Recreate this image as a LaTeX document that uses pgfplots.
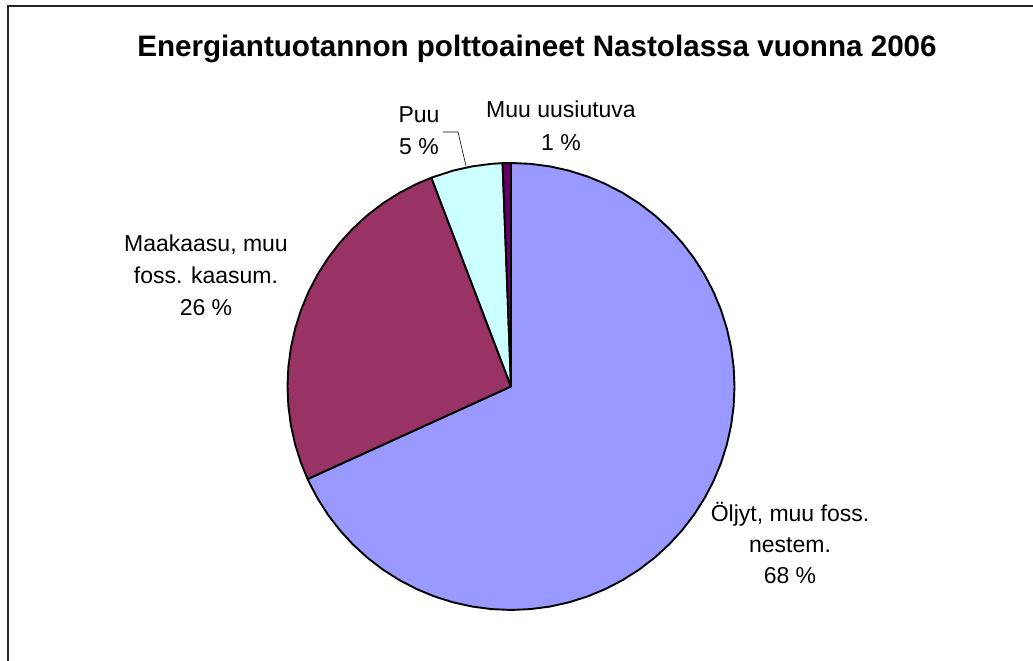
\documentclass[border=0pt]{standalone}
\usepackage{fontspec}
\setmainfont{Liberation Sans}
\usepackage{pgfplots}
\pgfplotsset{compat=1.18}
\usepgfplotslibrary{polar}
\definecolor{cOil}{HTML}{9999FF}
\definecolor{cGas}{HTML}{993366}
\definecolor{cWood}{HTML}{CCFFFF}
\definecolor{cOther}{HTML}{660066}
\begin{document}
\begin{tikzpicture}
% shares: Oljyt 68.2 %, Maakaasu 26.0 %, Puu 5.2 %, Muu uusiutuva 0.6 %
% slices start at 90 deg and run clockwise (1 % = 3.6 deg), radius 223.5
\begin{axis}[
  scale only axis, width=1033pt, height=661pt,
  xmin=-511, xmax=522, ymin=-274.5, ymax=386.5,
  hide axis, clip=false,
]
\addplot[data cs=polar, fill=cOil, draw=black, line width=1.9pt, line join=round, mark=none] coordinates {
 (0,0) (90,223.5) (85,223.5) (80,223.5) (75,223.5) (70,223.5) (65,223.5) (60,223.5) (55,223.5) (50,223.5) (45,223.5)
 (40,223.5) (35,223.5) (30,223.5) (25,223.5) (20,223.5) (15,223.5) (10,223.5) (5,223.5) (0,223.5)
 (-5,223.5) (-10,223.5) (-15,223.5) (-20,223.5) (-25,223.5) (-30,223.5) (-35,223.5) (-40,223.5) (-45,223.5)
 (-50,223.5) (-55,223.5) (-60,223.5) (-65,223.5) (-70,223.5) (-75,223.5) (-80,223.5) (-85,223.5) (-90,223.5)
 (-95,223.5) (-100,223.5) (-105,223.5) (-110,223.5) (-115,223.5) (-120,223.5) (-125,223.5) (-130,223.5)
 (-135,223.5) (-140,223.5) (-145,223.5) (-150,223.5) (-155,223.5) (-155.52,223.5)
} -- cycle;
\addplot[data cs=polar, fill=cGas, draw=black, line width=1.9pt, line join=round, mark=none] coordinates {
 (0,0) (204.48,223.5) (200,223.5) (195,223.5) (190,223.5) (185,223.5) (180,223.5) (175,223.5) (170,223.5)
 (165,223.5) (160,223.5) (155,223.5) (150,223.5) (145,223.5) (140,223.5) (135,223.5) (130,223.5)
 (125,223.5) (120,223.5) (115,223.5) (110.88,223.5)
} -- cycle;
\addplot[data cs=polar, fill=cWood, draw=black, line width=1.9pt, line join=round, mark=none] coordinates {
 (0,0) (110.88,223.5) (105,223.5) (100,223.5) (95,223.5) (92.16,223.5)
} -- cycle;
\addplot[data cs=polar, fill=cOther, draw=black, line width=1.9pt, line join=round, mark=none] coordinates {
 (0,0) (92.16,223.5) (90,223.5)
} -- cycle;
% leader line for Puu
\addplot[black, line width=0.6pt, mark=none] coordinates {(-68,254.5) (-53,254.5) (-45,220.5)};
% frame
\addplot[black!85, line width=2pt, mark=none] coordinates {(-503,-274.5) (-503,380.5) (522,380.5)};

\node[anchor=base, font=\fontsize{29.6}{34}\selectfont\bfseries] at (axis cs:26,329.5) {Energiantuotannon polttoaineet Nastolassa vuonna 2006};
\tikzset{lbl/.style={anchor=base, font=\fontsize{23}{32}\selectfont}}
\node[lbl] at (axis cs:-92,263.5) {Puu};
\node[lbl] at (axis cs:-92,231.5) {5 \%};
\node[lbl] at (axis cs:50,268.5) {Muu uusiutuva};
\node[lbl] at (axis cs:50,235.5) {1 \%};
\node[lbl] at (axis cs:-305,134.8) {Maakaasu, muu};
\node[lbl] at (axis cs:-305,102.5) {foss. kaasum.};
\node[lbl] at (axis cs:-305,70.8) {26 \%};
\node[lbl] at (axis cs:279,-135.2) {Öljyt, muu foss.};
\node[lbl] at (axis cs:279,-166.5) {nestem.};
\node[lbl] at (axis cs:279,-197.5) {68 \%};
\end{axis}
\pgfresetboundingbox
\path (current axis.south west) rectangle (current axis.north east);
\end{tikzpicture}
\end{document}
